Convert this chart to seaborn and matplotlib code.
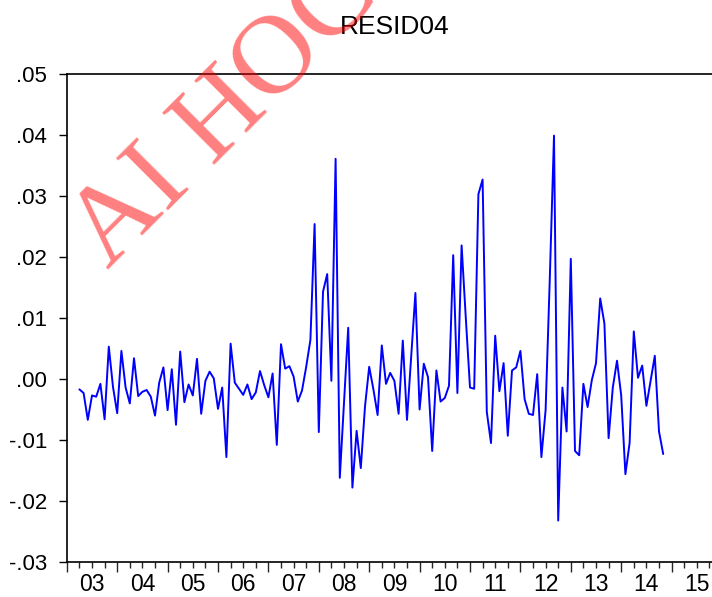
import numpy as np
import pandas as pd
import matplotlib
matplotlib.use("Agg")
import matplotlib.pyplot as plt
import seaborn as sns
from matplotlib.ticker import FixedLocator, FuncFormatter, NullFormatter

# Monthly residual series, April 2003 onward
start_year = 2003
start_month = 4
resid04 = [
    -0.0017, -0.0023, -0.0067, -0.0027, -0.0029, -0.0008, -0.0066, 0.0053, -0.0013, -0.0056,
    0.0046, -0.0014, -0.0040, 0.0034, -0.0028, -0.0021, -0.0018, -0.0029, -0.0060, -0.0006,
    0.0019, -0.0051, 0.0016, -0.0075, 0.0045, -0.0038, -0.0009, -0.0027, 0.0033, -0.0057,
    -0.0003, 0.0012, 0.0001, -0.0049, -0.0014, -0.0128, 0.0058, -0.0006, -0.0016, -0.0026,
    -0.0009, -0.0033, -0.0022, 0.0013, -0.0010, -0.0030, 0.0009, -0.0108, 0.0057, 0.0017,
    0.0021, 0.0004, -0.0037, -0.0019, 0.0020, 0.0064, 0.0254, -0.0087, 0.0143, 0.0172,
    -0.0003, 0.0361, -0.0162, -0.0038, 0.0084, -0.0178, -0.0085, -0.0146, -0.0045, 0.0020,
    -0.0017, -0.0059, 0.0055, -0.0008, 0.0010, -0.0003, -0.0057, 0.0063, -0.0067, 0.0037,
    0.0141, -0.0050, 0.0025, 0.0003, -0.0118, 0.0014, -0.0037, -0.0031, -0.0011, 0.0203,
    -0.0023, 0.0219, 0.0100, -0.0014, -0.0016, 0.0303, 0.0327, -0.0054, -0.0105, 0.0071,
    -0.0020, 0.0026, -0.0093, 0.0014, 0.0019, 0.0046, -0.0033, -0.0057, -0.0059, 0.0008,
    -0.0128, -0.0051, 0.0165, 0.0399, -0.0232, -0.0014, -0.0086, 0.0197, -0.0118, -0.0125,
    -0.0008, -0.0046, -0.0002, 0.0026, 0.0132, 0.0091, -0.0097, -0.0014, 0.0030, -0.0027,
    -0.0156, -0.0105, 0.0078, 0.0002, 0.0022, -0.0044, -0.0003, 0.0038, -0.0086, -0.0123,
]
year_labels = ["03", "04", "05", "06", "07", "08", "09", "10", "11", "12", "13", "14", "15"]
y_ticks = [-0.03, -0.02, -0.01, 0.00, 0.01, 0.02, 0.03, 0.04, 0.05]

sns.set_style("ticks")
plt.rcParams["font.family"] = ["Liberation Sans", "DejaVu Sans"]

t = start_year + (start_month - 1 + np.arange(len(resid04))) / 12.0
df = pd.DataFrame({"t": t, "RESID04": resid04})

W, H = 712, 597
fig = plt.figure(figsize=(W / 100, H / 100), dpi=100)
fig.patch.set_facecolor("white")
x0, x1, y_top, y_bot = 66.8, 722.0, 74.0, 562.0
ax = fig.add_axes([x0 / W, 1 - y_bot / H, (x1 - x0) / W, (y_bot - y_top) / H])

sns.lineplot(data=df, x="t", y="RESID04", ax=ax, color="#0000FF", linewidth=1.4)

ax.set_xlim(2003, 2016)
ax.set_ylim(-0.03, 0.05)
ax.set_xlabel("")
ax.set_ylabel("")

# y axis: EViews-style labels without the leading zero
ax.yaxis.set_major_locator(FixedLocator(y_ticks))
def fmt_y(v, pos):
    s = f"{round(v, 2):.2f}"
    if s.startswith("-0."):
        s = "-." + s[3:]
    elif s.startswith("0."):
        s = "." + s[2:]
    return s
ax.yaxis.set_major_formatter(FuncFormatter(fmt_y))
ax.tick_params(axis="y", direction="out", length=6, width=1.0, pad=8,
               labelsize=16, colors="black")

# x axis: year boundaries as major ticks, quarters as minor ticks
years = np.arange(2003, 2017)
ax.xaxis.set_major_locator(FixedLocator(years))
ax.xaxis.set_major_formatter(NullFormatter())
quarters = [y + q / 4 for y in years[:-1] for q in (1, 2, 3)]
ax.xaxis.set_minor_locator(FixedLocator(quarters))
ax.tick_params(axis="x", which="major", direction="out", length=7, width=1.0)
ax.tick_params(axis="x", which="minor", direction="out", length=4, width=1.0)
for yr, lab in zip(years[:-1], year_labels):
    ax.text(yr + 0.5, -0.0318, lab, transform=ax.transData,
            ha="center", va="top", fontsize=16.5, color="black", clip_on=False)

for side in ["left", "bottom", "top", "right"]:
    ax.spines[side].set_visible(True)
    ax.spines[side].set_color("black")
    ax.spines[side].set_linewidth(1.2)

ax.set_title("RESID04", fontsize=19, pad=29, color="black")

# watermark
fig.text(108 / W, 1 - 270 / H, "AI HOC", rotation=45, rotation_mode="anchor",
         ha="left", va="baseline", fontsize=81,
         family=["Liberation Serif", "DejaVu Serif"], color="red", alpha=0.5)

fig.savefig("out.png", dpi=100, facecolor="white")
